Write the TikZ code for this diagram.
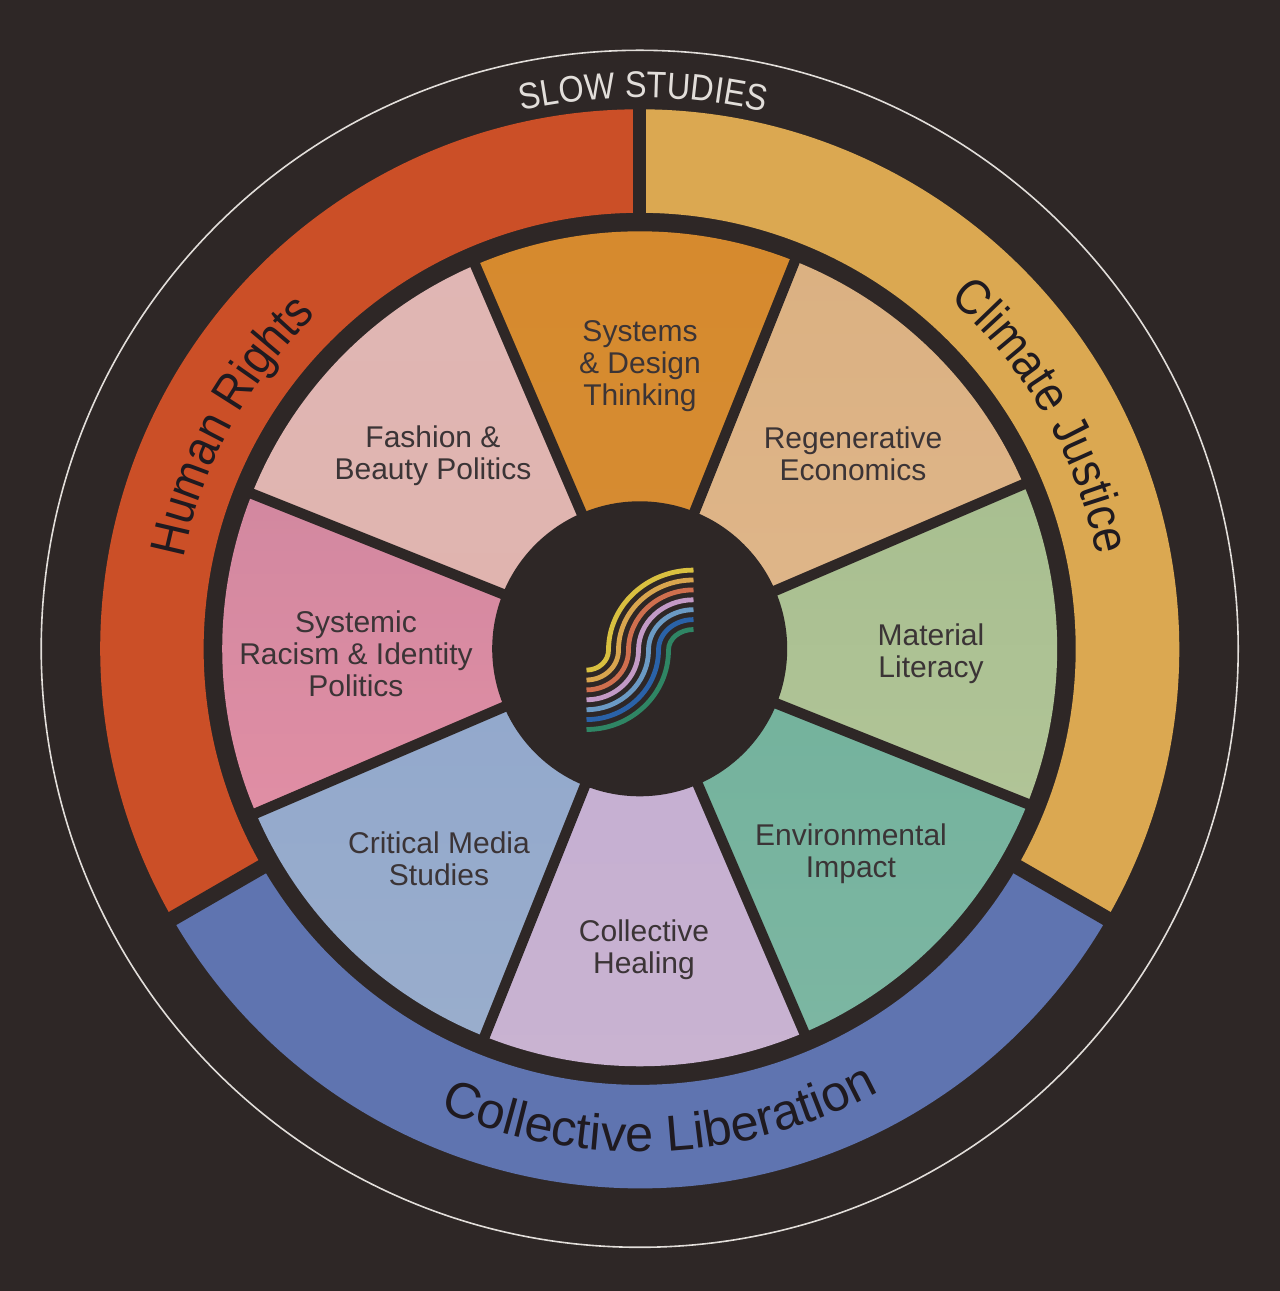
\documentclass[tikz,border=0pt]{standalone}
\usepackage{fontspec}
\setmainfont{Liberation Sans}
\newfontfamily\tightfont[FakeStretch=0.89]{Liberation Sans}
\newfontfamily\slowfamily[FakeStretch=0.875]{Liberation Sans}
\usetikzlibrary{decorations.text}
\definecolor{bgdark}{HTML}{2E2726}
\definecolor{inkdark}{HTML}{3B3436}
\definecolor{ringink}{HTML}{1F1A20}
\definecolor{hairline}{HTML}{E2DEDA}
\newcommand{\ringfont}{\tightfont\fontsize{50}{54}\selectfont}
\newcommand{\lowerfont}{\fontsize{50.5}{54}\selectfont}
\newcommand{\slowfont}{\slowfamily\fontsize{37}{40}\selectfont}
\tikzset{
    wedgelabel/.style={align=center, text=inkdark, font=\fontsize{30}{32}\selectfont, inner sep=0pt},
    gapline/.style={draw=bgdark, line width=10.5pt},
    logoline/.style={line width=4.8pt}
}
\begin{document}
\begin{tikzpicture}[x=1pt, y=1pt]
    % Background
    \path[fill=bgdark] (0,0) rectangle (1280,1291);
    \useasboundingbox (0,0) rectangle (1280,1291);

    \begin{scope}[shift={(639.7,642.2)}]
        % Hairline circle
        \draw[hairline, line width=1.6pt] (0,0) circle[radius=598.5pt];

        % Outer ring
        \foreach \a/\b/\col in {90/210/CB4F27, -30/90/DBA851, 210/330/5F74B0} {
            \definecolor{ringcol}{HTML}{\col}
            \fill[ringcol] (\a:539.5pt) arc[start angle=\a, end angle=\b, radius=539.5pt]
                -- (\b:436pt) arc[start angle=\b, end angle=\a, radius=436pt] -- cycle;
        }
        \foreach \a/\w in {90/13, 210/15, 330/15} {
            \draw[draw=bgdark, line width=\w pt] (\a:430pt) -- (\a:548pt);
        }

        % Wheel
        \foreach \a/\cola/\colb in {
            90.7/D68A2E/D68C32, 45.7/DBB182/DFB68A, 0.7/A8BF90/B1C497, -44.3/73B29C/7CB6A2,
            -89.3/C4AED2/C9B3D1, -134.3/92A8CC/99ADCC, -179.3/D288A0/E08EA4, 135.7/E0B6B4/E0B4AE} {
            \definecolor{wedgetop}{HTML}{\cola}
            \definecolor{wedgebot}{HTML}{\colb}
            \shade[top color=wedgetop, bottom color=wedgebot] (0,0) -- (\a-22.5:417.5pt)
                arc[start angle=\a-22.5, end angle=\a+22.5, radius=417.5pt] -- cycle;
        }
        \foreach \a in {23.2, 68.2, ..., 338.2} {
            \draw[gapline] (0,0) -- (\a:424pt);
        }
        \fill[bgdark] (0,0) circle[radius=147.5pt];

        % Logo
        \foreach \i/\col in {0/D9C040, 1/D8A54E, 2/CF6F4E, 3/C39AC6, 4/6B9AC4, 5/2A62A8, 6/2F8564} {
            \definecolor{logocol}{HTML}{\col}
            \draw[logocol, logoline] (53.8,{78.7-9.9*\i})
                arc[start angle=90, end angle=180, x radius={85-10*\i}, y radius={80-9.9*\i}]
                arc[start angle=0, end angle=-90, x radius={22+10*\i}, y radius={20+9.9*\i}];
        }

        % Ring texts
        \path[decorate, decoration={text along path, text align={center},
            text={|\slowfont\color{hairline}|SLOW STUDIES}}]
            (114.4:551pt) arc[start angle=114.4, end angle=64.9, radius=551pt];
        \path[decorate, decoration={text along path, text align={center},
            text={|\ringfont\color{ringink}|Human Rights}}]
            (180.9:465pt) arc[start angle=180.9, end angle=121.9, radius=465pt];
        \path[decorate, decoration={text along path, text align={center},
            text={|\ringfont\color{ringink}|Climate Justice}}]
            (60:467pt) arc[start angle=60, end angle=0, radius=467pt];
        \path[decorate, decoration={text along path, text align={center},
            text={|\lowerfont\color{ringink}|Collective Liberation}}]
            (232:503pt) arc[start angle=232, end angle=313, radius=503pt];
    \end{scope}

    % Wedge labels
    \node[wedgelabel] (systems) at (640,924.5) {Systems\\\& Design\\Thinking};
    \node[wedgelabel] (regen) at (853,837) {Regenerative\\Economics};
    \node[wedgelabel] (material) at (931,637) {Material\\Literacy};
    \node[wedgelabel] (environ) at (851,437.5) {Environmental\\Impact};
    \node[wedgelabel] (healing) at (644,341) {Collective\\Healing};
    \node[wedgelabel] (media) at (439,432) {Critical Media\\Studies};
    \node[wedgelabel] (racism) at (356,637) {Systemic\\Racism \& Identity\\Politics};
    \node[wedgelabel] (fashion) at (433,835) {Fashion \&\\Beauty Politics};
\end{tikzpicture}
\end{document}
